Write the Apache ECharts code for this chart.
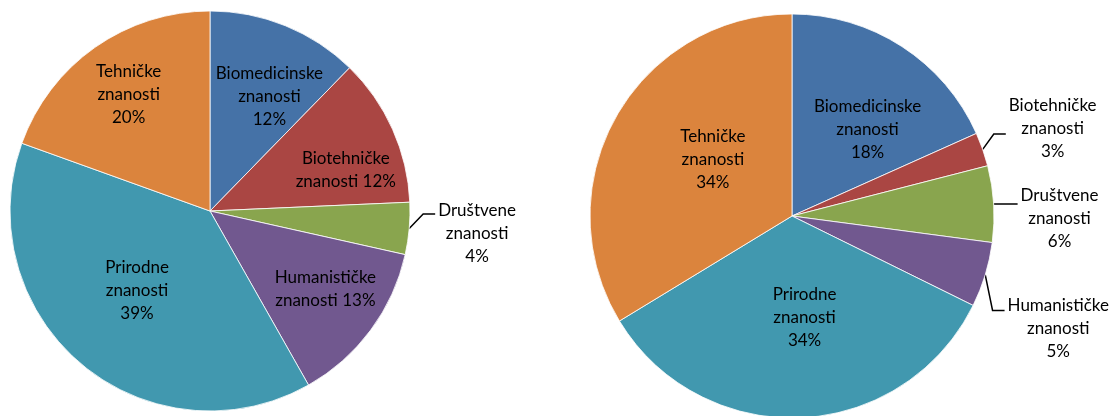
<!DOCTYPE html>
<html>
<head>
<meta charset="utf-8">
<script src="https://cdn.jsdelivr.net/npm/echarts@6/dist/echarts.min.js"></script>
<style>
  html, body { margin: 0; padding: 0; background: #fff; }
  #chart { width: 1112px; height: 416px; }
</style>
</head>
<body>
<div id="chart"></div>
<script>
// podaci (udio po znanstvenim područjima)
const categories = ['Biomedicinske znanosti', 'Biotehničke znanosti', 'Društvene znanosti',
                    'Humanističke znanosti', 'Prirodne znanosti', 'Tehničke znanosti'];
const leftValues = [12.3, 12.0, 4.2, 13.3, 38.7, 19.5];
const rightValues = [18.3, 2.7, 6.1, 5.2, 34.0, 33.7];

const colors = ['#4572A7', '#AA4643', '#89A54E', '#71588F', '#4198AF', '#DB843D'];

// koji su natpisi izvan kruga
const leftOutside = ['Društvene znanosti'];
const rightOutside = ['Biotehničke znanosti', 'Društvene znanosti', 'Humanističke znanosti'];
// natpisi u dva reda na lijevom grafu
const leftTwoLine = ['Biotehničke znanosti', 'Humanističke znanosti'];

// unutarnji natpisi: [udio polumjera, zakret u stupnjevima]
const leftInside = [[0.65, 4.5], [0.7, 6], null, [0.67, -4], [0.51, 4], [0.71, 1]];
const rightInside = [[0.57, 7], null, null, null, [0.47, -5], [0.48, 8.5]];
// vanjski natpisi: [pomak x, pomak y, visina spoja crte u odnosu na sredinu natpisa]
const leftOut = [null, null, [-6, 4, -20], null, null, null];
const rightOut = [null, [-8, -16, 6], [-8, 16, -15], [-12, 49, -18], null, null];

const chart = echarts.init(document.getElementById('chart'));

function makeSeries(values, center, radius, outside, twoLine, inPos, outPos) {
  const total = values.reduce((a, b) => a + b, 0);
  // srednji kut svakog isječka (od vrha, u smjeru kazaljke)
  let acc = 0;
  const mids = values.map(v => {
    const m = (acc + v / 2) / total * Math.PI * 2;
    acc += v;
    return m;
  });
  return {
    type: 'pie',
    center: center,
    radius: radius,
    startAngle: 90,
    clockwise: true,
    percentPrecision: 0,
    avoidLabelOverlap: false,
    emphasis: { disabled: true },
    itemStyle: { borderColor: '#fff', borderWidth: 0.8 },
    label: {
      fontFamily: 'Lato',
      fontSize: 17,
      lineHeight: 23,
      color: '#000',
      align: 'center',
      overflow: 'none',
      formatter: p => {
        const parts = p.name.split(' ');
        if (twoLine.indexOf(p.name) >= 0) {
          return parts[0] + '\n' + parts[1] + ' ' + p.percent + '%';
        }
        return parts[0] + '\n' + parts[1] + '\n' + p.percent + '%';
      }
    },
    labelLine: {
      length: 16,
      length2: 12,
      smooth: false,
      lineStyle: { color: '#000', width: 1.5 }
    },
    labelLayout: params => {
      const i = params.dataIndex;
      const a = mids[i];
      const sx = Math.sin(a), sy = -Math.cos(a);
      if (outPos[i]) {
        const [ox, oy, oj] = outPos[i];
        const rect = params.labelRect;
        const left = rect.x + 2 + ox;
        const ey = rect.y + rect.height / 2 + oy + oj;
        const p0 = [center[0] + radius * sx, center[1] + radius * sy];
        const end = [left - 3, ey];
        const bend = [end[0] - 12, ey];
        return {
          align: 'center',
          dx: rect.width / 2 + 2 + ox,
          dy: oy,
          labelLinePoints: [p0, bend, end]
        };
      }
      // pomak natpisa s polovice polumjera na željeno mjesto
      const [f, off] = inPos[i];
      const b = a + off * Math.PI / 180;
      const tx = f * radius * Math.sin(b), ty = -f * radius * Math.cos(b);
      return { dx: tx - 0.5 * radius * sx, dy: ty - 0.5 * radius * sy + 4 };
    },
    data: values.map((v, i) => ({
      name: categories[i],
      value: v,
      itemStyle: { color: colors[i] },
      label: { position: outside.indexOf(categories[i]) >= 0 ? 'outside' : 'inside' },
      labelLine: { show: outside.indexOf(categories[i]) >= 0 }
    }))
  };
}

const option = {
  animation: false,
  series: [
    makeSeries(leftValues, [210, 211], 200, leftOutside, leftTwoLine, leftInside, leftOut),
    makeSeries(rightValues, [792, 216], 202, rightOutside, [], rightInside, rightOut)
  ]
};

chart.setOption(option);
</script>
</body>
</html>
